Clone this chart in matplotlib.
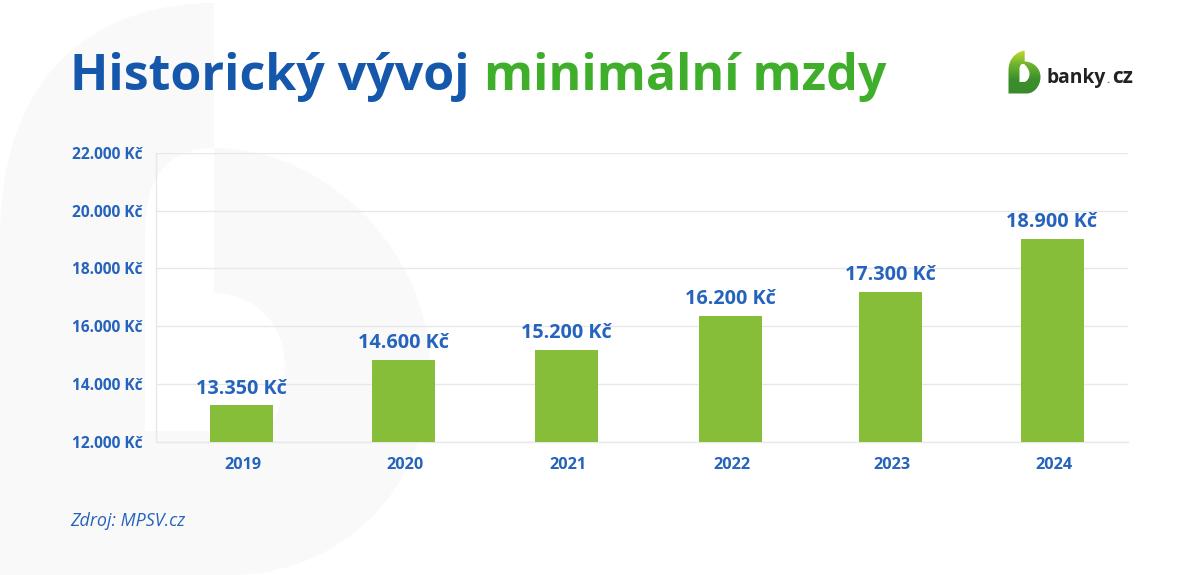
import numpy as np
import matplotlib
matplotlib.use("Agg")
import matplotlib.pyplot as plt
from matplotlib.path import Path
from matplotlib.patches import PathPatch

plt.rcParams['font.family'] = ['Open Sans', 'DejaVu Sans']

years = ['2019', '2020', '2021', '2022', '2023', '2024']
bar_heights = [13250, 14830, 15180, 16360, 17190, 19030]
bar_labels = ['13.350 Kč', '14.600 Kč', '15.200 Kč', '16.200 Kč', '17.300 Kč', '18.900 Kč']
y_ticks = [12000, 14000, 16000, 18000, 20000, 22000]
y_tick_labels = ['12.000 Kč', '14.000 Kč', '16.000 Kč', '18.000 Kč', '20.000 Kč', '22.000 Kč']

BLUE = '#2563BD'
TITLE_BLUE = '#1457AB'
TITLE_GREEN = '#3FAE2A'
BAR = '#86BD39'
GRID = '#E8E8E8'
SHADE = '#F9F9F9'

W, H = 1200, 575
fig = plt.figure(figsize=(W / 100, H / 100), dpi=100, facecolor='white')

# full-figure pixel layer for decoration
bg = fig.add_axes([0, 0, 1, 1], zorder=0)
bg.set_xlim(0, W)
bg.set_ylim(H, 0)
bg.axis('off')

M, L, C = Path.MOVETO, Path.LINETO, Path.CURVE4
verts = [(214, 3),
         (120, 3), (0, 50), (0, 240),
         (0, 575), (230, 575),
         (340, 575), (430, 490), (430, 370),
         (430, 250), (325, 148), (214, 148),
         (214, 293),
         (255, 293), (285, 325), (285, 365),
         (285, 395), (278, 415), (268, 431),
         (145, 431),
         (145, 230),
         (145, 175), (170, 148), (214, 148),
         (214, 3)]
codes = [M, C, C, C, L, L, C, C, C, C, C, C, L, C, C, C, C, C, C, L, L, C, C, C, L]
bg.add_patch(PathPatch(Path(verts, codes), fc=SHADE, ec='none'))

# logo
logo_verts = [(1024.7, 50.5),
              (1015, 52), (1008.5, 60), (1008.5, 70),
              (1008.5, 93.5), (1027, 93.5),
              (1034, 93.5), (1040.5, 86), (1040.5, 77),
              (1040.5, 68), (1033, 61.5), (1024.7, 61.5),
              (1024.7, 50.5)]
logo_codes = [M, C, C, C, L, L, C, C, C, C, C, C, L]
logo_clip = PathPatch(Path(logo_verts, logo_codes), fc='none', ec='none', transform=bg.transData)
bg.add_patch(logo_clip)
grad = np.linspace(0, 1, 64).reshape(-1, 1)
cmap = matplotlib.colors.LinearSegmentedColormap.from_list('g', ['#C4D92E', '#6DB32E', '#3C8F2C', '#3A8A2E'])
im = bg.imshow(grad, extent=(1008, 1041, 94, 50), cmap=cmap, aspect='auto', zorder=2)
im.set_clip_path(logo_clip)
bg.set_xlim(0, W)
bg.set_ylim(H, 0)
heart = [(1024.7, 64.5),
         (1022, 62.5), (1019.5, 65), (1019.5, 69),
         (1019.5, 82),
         (1024, 82),
         (1027, 82), (1029.5, 78), (1029.5, 74),
         (1029.5, 70), (1027, 67), (1024.7, 64.5)]
heart_codes = [M, C, C, C, L, L, C, C, C, C, C, C]
bg.add_patch(PathPatch(Path(heart, heart_codes), fc='white', ec='none', zorder=3))

# chart
x0, x1, ytop, ybot = 156.5, 1128, 153, 441.5
ax = fig.add_axes([x0 / W, 1 - ybot / H, (x1 - x0) / W, (ybot - ytop) / H], zorder=1)
ax.patch.set_alpha(0)
step = 162.3
nudge_px = np.array([0, 0, 1, 2.5, 0.5, -0.5])
pos = np.arange(len(years)) + nudge_px / step
ax.set_xlim((x0 - 241) / step, (x1 - 241) / step)
ax.set_ylim(12000, 22000)
ax.bar(pos, bar_heights, width=63 / step, bottom=0, color=BAR, zorder=3)
ax.set_yticks(y_ticks, y_tick_labels)
ax.set_xticks(pos + 1.5 / step, years)
ax.grid(axis='y', color=GRID, lw=1)
ax.set_axisbelow(True)
for s in ['top', 'right']:
    ax.spines[s].set_visible(False)
for s in ['left', 'bottom']:
    ax.spines[s].set_color(GRID)
    ax.spines[s].set_linewidth(1)
ax.tick_params(axis='both', length=0)
ax.tick_params(axis='y', pad=10, labelsize=11.2, labelcolor=BLUE)
ax.tick_params(axis='x', pad=11.5, labelsize=11.7, labelcolor=BLUE)
for t in ax.get_xticklabels() + ax.get_yticklabels():
    t.set_fontweight('bold')
for p, h, lab in zip(pos, bar_heights, bar_labels):
    ax.annotate(lab, (p, h), xytext=(0, 12), textcoords='offset points', ha='center', va='center',
                color=BLUE, fontsize=14.3, fontweight='bold')

# texts in pixel layer
bg.text(70, 90, 'Historický vývoj', color=TITLE_BLUE, fontsize=36.05, fontweight='bold', va='baseline', zorder=5)
bg.text(483.5, 90, 'minimální mzdy', color=TITLE_GREEN, fontsize=36.05, fontweight='bold', va='baseline', zorder=5)
bg.text(70.5, 526, 'Zdroj: MPSV.cz', color=BLUE, fontsize=12.9, fontstyle='italic', va='baseline', zorder=5)
bg.text(1046.5, 83, 'banky', color='#222222', fontsize=13.9, fontweight='bold', va='baseline', zorder=5)
bg.text(1106.5, 83, '.', color='#3C8F2C', fontsize=8, fontweight='bold', va='baseline', zorder=5)
bg.text(1112, 83, 'cz', color='#222222', fontsize=15, fontweight='bold', va='baseline', zorder=5)

fig.savefig('out.png', dpi=100)
